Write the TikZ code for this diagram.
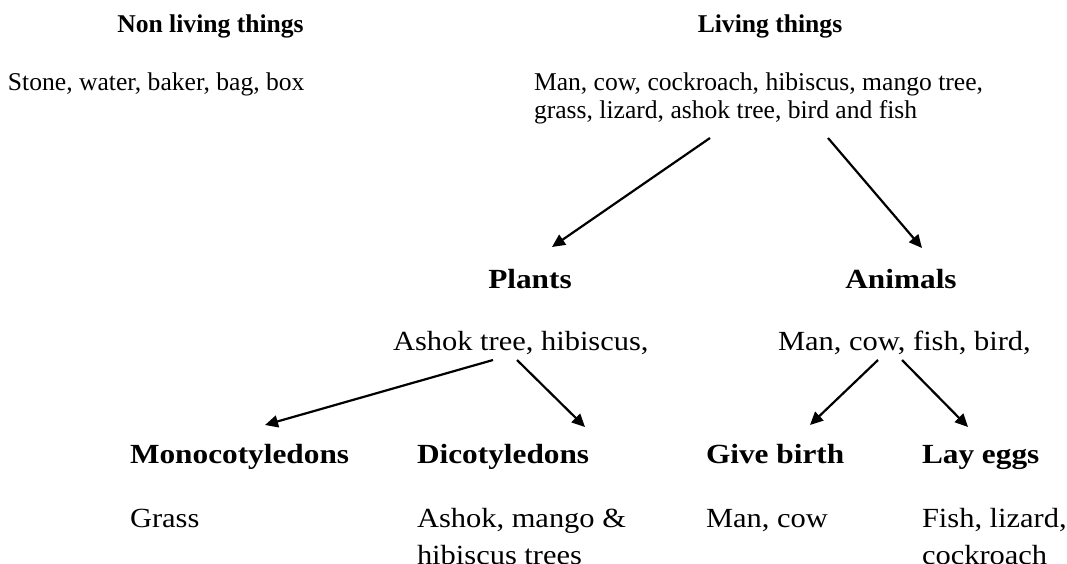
\documentclass[tikz,border=0pt]{standalone}
\usepackage{fontspec}
\setmainfont{Liberation Serif}
\newfontfamily\camfont[FakeStretch=1.10,BoldFeatures={FakeStretch=1.13}]{Liberation Serif}
\usetikzlibrary{arrows.meta}
\begin{document}
\begin{tikzpicture}[x=1pt,y=-1pt,
  every node/.style={inner sep=0pt,outer sep=0pt},
  toptext/.style={font=\fontsize{25.6}{28}\selectfont},
  tophead/.style={font=\fontsize{25.6}{28}\selectfont\bfseries},
  lowtext/.style={font=\camfont\fontsize{27.7}{30}\selectfont},
  lowhead/.style={font=\camfont\fontsize{27.7}{30}\selectfont\bfseries},
  arr/.style={line width=2.2pt,-{Triangle[length=13pt,width=12pt]}}]
\clip (0,0) rectangle (1067,563);
\fill[white] (0,0) rectangle (1067,563);
% top
\node[tophead,anchor=base] (nonhead) at (210.5,32) {Non living things};
\node[tophead,anchor=base] (livhead) at (770,32) {Living things};
\node[toptext,anchor=base west] (nonlist) at (8,90) {Stone, water, baker, bag, box};
\node[toptext,anchor=base west] (liv1) at (534,90) {Man, cow, cockroach, hibiscus, mango tree,};
\node[toptext,anchor=base west] (liv2) at (534,118) {grass, lizard, ashok tree, bird and fish};
% middle
\node[lowhead,anchor=base] (plants) at (530,288) {Plants};
\node[lowhead,anchor=base] (animals) at (901,288) {Animals};
\node[lowtext,anchor=base west] (plist) at (393,350) {Ashok tree, hibiscus,};
\node[lowtext,anchor=base west] (alist) at (778,350) {Man, cow, fish, bird,};
% bottom
\node[lowhead,anchor=base west] (mono) at (130,463) {Monocotyledons};
\node[lowhead,anchor=base west] (dico) at (417,463) {Dicotyledons};
\node[lowhead,anchor=base west] (give) at (706,463) {Give birth};
\node[lowhead,anchor=base west] (lay) at (922,463) {Lay eggs};
\node[lowtext,anchor=base west] (grass) at (130,527) {Grass};
\node[lowtext,anchor=base west] (dico1) at (417,527) {Ashok, mango \&};
\node[lowtext,anchor=base west] (dico2) at (417,564) {hibiscus trees};
\node[lowtext,anchor=base west] (give1) at (706,527) {Man, cow};
\node[lowtext,anchor=base west] (lay1) at (922,527) {Fish, lizard,};
\node[lowtext,anchor=base west] (lay2) at (922,564) {cockroach};
% arrows
\draw[arr] ([shift={(176,20)}]liv2.base west) -- ([shift={(22,-41)}]plants.base);
\draw[arr] ([shift={(294,20)}]liv2.base west) -- ([shift={(21,-40)}]animals.base);
\draw[arr] ([shift={(100,10)}]plist.base west) -- ([shift={(135,-38)}]mono.base west);
\draw[arr] ([shift={(124,10)}]plist.base west) -- ([shift={(168,-36)}]dico.base west);
\draw[arr] ([shift={(100,10)}]alist.base west) -- ([shift={(104,-38)}]give.base west);
\draw[arr] ([shift={(124,10)}]alist.base west) -- ([shift={(46,-36)}]lay.base west);
\end{tikzpicture}
\end{document}
